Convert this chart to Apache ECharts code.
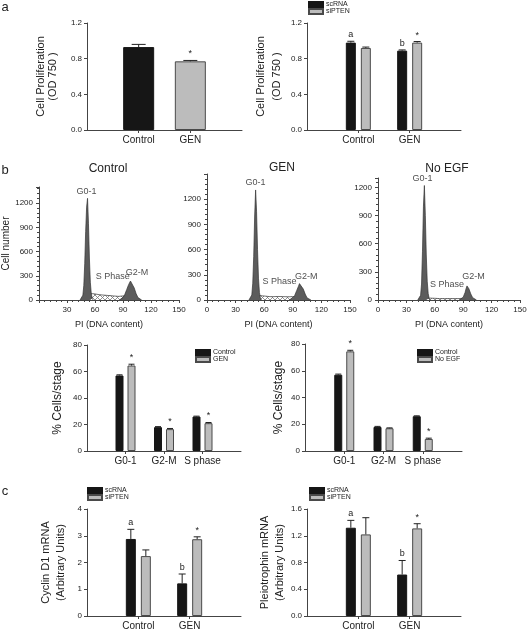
<!DOCTYPE html>
<html><head><meta charset="utf-8">
<script src="https://cdn.jsdelivr.net/npm/echarts@6/dist/echarts.min.js"></script>
<style>html,body{margin:0;padding:0;background:#fff}#c{width:528px;height:630px}</style>
</head><body><div id="c"></div>
<script>
// ---------- DATA ----------
// Panel a
const aGroups = ['Control', 'GEN'];
const aLeftMean = [0.93, 0.77];
const aLeftErr = [0.03, 0.01];
const aLeftMarks = ['', '*'];
const aScrnaMean = [0.98, 0.89];
const aScrnaErr = [0.015, 0.008];
const aScrnaMarks = ['a', 'b'];
const aSiptenMean = [0.92, 0.98];
const aSiptenErr = [0.01, 0.012];
const aSiptenMarks = ['', '*'];

// Panel b histograms: [PI, cell number]
const ctlG01 = [[44,0],[46,10],[47,60],[48,180],[49,450],[50,850],[51,1150],[52,1260],[53,950],[54,520],[55,220],[56,80],[57,20],[58,0]];
const ctlG2M = [[86,0],[88,10],[90,30],[92,70],[94,130],[96,190],[98,235],[99,240],[100,215],[102,150],[104,80],[106,30],[108,8],[110,0]];
const ctlS   = [[48,0],[50,40],[52,70],[55,80],[60,75],[65,65],[70,60],[75,55],[80,50],[85,45],[90,50],[95,55],[100,50],[103,30],[106,0]];
const genG01 = [[44,0],[46,15],[47,60],[48,200],[49,520],[50,1000],[51,1310],[52,1050],[53,600],[54,260],[55,90],[56,25],[57,0]];
const genG2M = [[86,0],[88,10],[90,25],[92,55],[94,110],[96,165],[97,195],[98,200],[99,185],[101,130],[103,70],[105,25],[107,5],[109,0]];
const genS   = [[48,0],[51,35],[54,55],[58,50],[62,45],[66,40],[70,40],[75,42],[80,40],[85,38],[90,40],[95,45],[100,40],[104,20],[107,0]];
const negG01 = [[42,0],[44,10],[45,50],[46,170],[47,520],[48,1000],[49,1220],[50,900],[51,480],[52,200],[53,70],[54,20],[55,0]];
const negG2M = [[86,0],[88,8],[90,30],[92,80],[93,120],[94,150],[95,145],[96,120],[98,65],[100,25],[102,5],[104,0]];
const negS   = [[47,0],[50,15],[55,20],[60,18],[65,15],[70,15],[75,15],[80,15],[85,15],[90,18],[95,15],[98,0]];
const histTitles = ['Control', 'GEN', 'No EGF'];

// Panel b bars
const bPhases = ['G0-1', 'G2-M', 'S phase'];
const bCtlMean = [57, 18, 26];
const bCtlErr = [0.5, 0.4, 0.3];
const bGenMean = [64.5, 16.5, 21];
const bGenErr = [1.0, 0.5, 0.5];
const bGenMarks = ['*', '*', '*'];
const bNoEgfMean = [74.5, 17, 9];
const bNoEgfErr = [0.8, 0.3, 0.6];
const bNoEgfMarks = ['*', '', '*'];

// Panel c
const cCycScrna = [2.88, 1.22];
const cCycScrnaErr = [0.36, 0.35];
const cCycSipten = [2.24, 2.87];
const cCycSiptenErr = [0.23, 0.09];
const cPtnScrna = [1.32, 0.62];
const cPtnScrnaErr = [0.11, 0.21];
const cPtnSipten = [1.22, 1.31];
const cPtnSiptenErr = [0.25, 0.07];
const cScrnaMarks = ['a', 'b'];
const cSiptenMarks = ['', '*'];

// ---------- STYLE / HELPERS ----------
const FONT = '"Liberation Sans", Arial, Helvetica, sans-serif';
const TXT = '#222';
const AX = '#444';
const BLACK = '#161616';
const GRAY = '#bcbcbc';
const GRAYB = '#4a4a4a';
const DARK = '#5c5c5c';

const pc = document.createElement('canvas');
pc.width = 5; pc.height = 5;
const g = pc.getContext('2d');
g.fillStyle = '#fff'; g.fillRect(0, 0, 5, 5);
g.strokeStyle = '#777'; g.lineWidth = 0.8;
g.beginPath(); g.moveTo(0, 5); g.lineTo(5, 0); g.moveTo(0, 0); g.lineTo(5, 5); g.stroke();
const HATCH = { image: pc, repeat: 'repeat' };

function catAxis(gi, groups, fs) {
  return {
    type: 'category', gridIndex: gi, data: ['', ...groups, ''], boundaryGap: false,
    axisLine: { lineStyle: { color: AX, width: 1 } },
    axisTick: { show: true, length: 3, interval: (i, v) => v !== '', lineStyle: { color: AX } },
    axisLabel: { interval: 0, color: TXT, fontSize: fs, fontFamily: FONT, margin: 5 },
    splitLine: { show: false }
  };
}
function valAxis(gi, max, interval, dec, name, nameGap, fs, lh) {
  return {
    type: 'value', gridIndex: gi, min: 0, max, interval,
    axisLine: { show: true, lineStyle: { color: AX, width: 1 } },
    axisTick: { show: true, length: 3, lineStyle: { color: AX } },
    axisLabel: { color: TXT, fontSize: 8, fontFamily: FONT, margin: 5, formatter: v => v.toFixed(dec) },
    splitLine: { show: false },
    name, nameLocation: 'middle', nameRotate: 90, nameGap,
    nameTextStyle: { fontSize: fs, lineHeight: lh, color: TXT, fontFamily: FONT }
  };
}
function barSeries(gi, name, vals, color, border, width, gap) {
  return {
    type: 'bar', name, xAxisIndex: gi, yAxisIndex: gi, silent: true,
    data: vals.map((v, i) => [i + 1, v]), barWidth: width, barGap: gap,
    itemStyle: { color, borderColor: border, borderWidth: 1 }
  };
}
function errSeries(gi, means, errs, marks, offset, cap) {
  return {
    type: 'custom', xAxisIndex: gi, yAxisIndex: gi, z: 5, silent: true,
    data: means.map((m, i) => [i + 1, m, errs[i]]),
    renderItem: (params, api) => {
      const i = params.dataIndex;
      const p0 = api.coord([api.value(0), api.value(1)]);
      const p1 = api.coord([api.value(0), api.value(1) + api.value(2)]);
      const cx = p0[0] + offset;
      const ch = [
        { type: 'line', shape: { x1: cx, y1: p0[1], x2: cx, y2: p1[1] }, style: { stroke: '#222', lineWidth: 1 } },
        { type: 'line', shape: { x1: cx - cap / 2, y1: p1[1], x2: cx + cap / 2, y2: p1[1] }, style: { stroke: '#222', lineWidth: 1 } }
      ];
      if (marks[i]) ch.push({ type: 'text', style: { text: marks[i], x: cx, y: p1[1] - 2, align: 'center', verticalAlign: 'bottom', fontSize: 9, fontFamily: FONT, fill: TXT } });
      return { type: 'group', children: ch };
    }
  };
}
function histX(gi, hideZero) {
  return {
    type: 'value', gridIndex: gi, min: 0, max: 150, interval: 30,
    axisLine: { lineStyle: { color: AX } },
    axisTick: { length: 3, lineStyle: { color: AX } },
    minorTick: { show: true, splitNumber: 5, length: 2, lineStyle: { color: AX } },
    axisLabel: { color: TXT, fontSize: 8, fontFamily: FONT, margin: 6, formatter: v => (hideZero && v === 0) ? '' : String(v) },
    splitLine: { show: false }, minorSplitLine: { show: false },
    name: 'PI (DNA content)', nameLocation: 'middle', nameGap: 20,
    nameTextStyle: { fontSize: 9, color: TXT, fontFamily: FONT }
  };
}
function histY(gi, max, name) {
  return {
    type: 'value', gridIndex: gi, min: 0, max, interval: 300,
    axisLine: { show: true, lineStyle: { color: AX } },
    axisTick: { show: true, length: 3, lineStyle: { color: AX } },
    minorTick: { show: true, splitNumber: 5, length: 2, lineStyle: { color: AX } },
    axisLabel: { color: TXT, fontSize: 8, fontFamily: FONT, margin: 6, showMaxLabel: false, formatter: v => String(v) },
    splitLine: { show: false }, minorSplitLine: { show: false },
    name, nameLocation: 'middle', nameRotate: 90, nameGap: 25,
    nameTextStyle: { fontSize: 10, color: TXT, fontFamily: FONT }
  };
}
function area(gi, data, fill, z) {
  return {
    type: 'line', xAxisIndex: gi, yAxisIndex: gi, data, symbol: 'none', showSymbol: false, silent: true,
    lineStyle: { color: '#333', width: 0.7 }, areaStyle: { color: fill, opacity: 1 }, z
  };
}
function peakLabels(gi, items) {
  return {
    type: 'scatter', xAxisIndex: gi, yAxisIndex: gi, symbolSize: 0, silent: true, z: 6,
    data: items.map(it => ({ name: it[2], value: [it[0], it[1]] })),
    label: { show: true, position: [0, 0], align: 'center', verticalAlign: 'middle', formatter: '{b}', fontSize: 9, color: TXT, fontFamily: FONT }
  };
}
function legend(left, top, names) {
  return {
    left, top, orient: 'vertical', itemWidth: 14, itemHeight: 5, itemGap: 0, icon: 'rect',
    selectedMode: false, padding: 0, data: names,
    textStyle: { fontSize: 7, lineHeight: 7, color: TXT, fontFamily: FONT, padding: [0, 0, 0, -2] }
  };
}

// ---------- GRIDS ----------
const grids = [
  { left: 87, top: 23, width: 155, height: 107 },   // 0 a-left
  { left: 307, top: 23, width: 154, height: 107 },  // 1 a-right
  { left: 39, top: 187, width: 140, height: 113 },  // 2 hist control
  { left: 207, top: 174, width: 143, height: 126 }, // 3 hist GEN
  { left: 378, top: 178, width: 142, height: 122 }, // 4 hist No EGF
  { left: 87, top: 345, width: 154, height: 106 },  // 5 b bars left
  { left: 305, top: 344, width: 157, height: 107 }, // 6 b bars right
  { left: 87, top: 509, width: 154, height: 107 },  // 7 c left
  { left: 307, top: 509, width: 154, height: 107 }  // 8 c right
].map(o => Object.assign({ outerBoundsMode: 'none', containLabel: false }, o));

const xAxes = [
  catAxis(0, aGroups, 10), catAxis(1, aGroups, 10),
  histX(2, true), histX(3, false), histX(4, false),
  catAxis(5, bPhases, 10), catAxis(6, bPhases, 10),
  catAxis(7, aGroups, 10), catAxis(8, aGroups, 10)
];
const yAxes = [
  valAxis(0, 1.2, 0.4, 1, 'Cell Proliferation\n(OD 750 )', 28, 11, 12),
  valAxis(1, 1.2, 0.4, 1, 'Cell Proliferation\n(OD 750 )', 22, 11, 16),
  histY(2, 1400, 'Cell number'), histY(3, 1500, ''), histY(4, 1300, ''),
  valAxis(5, 80, 20, 0, '% Cells/stage', 22, 12, 14),
  valAxis(6, 80, 20, 0, '% Cells/stage', 19, 12, 14),
  valAxis(7, 4, 1, 0, 'Cyclin D1 mRNA\n(Arbitrary Units)', 19, 11, 15),
  valAxis(8, 1.6, 0.4, 1, 'Pleiotrophin mRNA\n(Arbitrary Units)', 19, 11, 15)
];

const series = [
  // a-left
  {
    type: 'bar', name: 'aLeft', xAxisIndex: 0, yAxisIndex: 0, silent: true, barWidth: 31,
    data: aLeftMean.map((v, i) => ({ value: [i + 1, v], itemStyle: { color: i === 0 ? BLACK : GRAY, borderColor: i === 0 ? BLACK : GRAYB, borderWidth: 1 } }))
  },
  errSeries(0, aLeftMean, aLeftErr, aLeftMarks, 0, 14),
  // a-right
  barSeries(1, 'scRNA', aScrnaMean, BLACK, BLACK, 10, '50%'),
  barSeries(1, 'siPTEN', aSiptenMean, GRAY, GRAYB, 10, '50%'),
  errSeries(1, aScrnaMean, aScrnaErr, aScrnaMarks, -7.5, 7),
  errSeries(1, aSiptenMean, aSiptenErr, aSiptenMarks, 7.5, 7),
  // histograms
  area(2, ctlS, HATCH, 2), area(2, ctlG01, DARK, 3), area(2, ctlG2M, DARK, 3),
  peakLabels(2, [[51, 1350, 'G0-1'], [79, 285, 'S Phase'], [105, 335, 'G2-M']]),
  area(3, genS, HATCH, 2), area(3, genG01, DARK, 3), area(3, genG2M, DARK, 3),
  peakLabels(3, [[51, 1400, 'G0-1'], [76, 225, 'S Phase'], [104, 275, 'G2-M']]),
  area(4, negS, HATCH, 2), area(4, negG01, DARK, 3), area(4, negG2M, DARK, 3),
  peakLabels(4, [[47, 1290, 'G0-1'], [73, 160, 'S Phase'], [101, 255, 'G2-M']]),
  // b bars left
  barSeries(5, 'Control', bCtlMean, BLACK, BLACK, 8, '50%'),
  barSeries(5, 'GEN', bGenMean, GRAY, GRAYB, 8, '50%'),
  errSeries(5, bCtlMean, bCtlErr, ['', '', ''], -6, 6),
  errSeries(5, bGenMean, bGenErr, bGenMarks, 6, 6),
  // b bars right
  barSeries(6, 'Control', bCtlMean, BLACK, BLACK, 8, '50%'),
  barSeries(6, 'No EGF', bNoEgfMean, GRAY, GRAYB, 8, '50%'),
  errSeries(6, bCtlMean, bCtlErr, ['', '', ''], -6, 6),
  errSeries(6, bNoEgfMean, bNoEgfErr, bNoEgfMarks, 6, 6),
  // c left
  barSeries(7, 'scRNA', cCycScrna, BLACK, BLACK, 10, '50%'),
  barSeries(7, 'siPTEN', cCycSipten, GRAY, GRAYB, 10, '50%'),
  errSeries(7, cCycScrna, cCycScrnaErr, cScrnaMarks, -7.5, 7),
  errSeries(7, cCycSipten, cCycSiptenErr, cSiptenMarks, 7.5, 7),
  // c right
  barSeries(8, 'scRNA', cPtnScrna, BLACK, BLACK, 10, '50%'),
  barSeries(8, 'siPTEN', cPtnSipten, GRAY, GRAYB, 10, '50%'),
  errSeries(8, cPtnScrna, cPtnScrnaErr, cScrnaMarks, -7.5, 7),
  errSeries(8, cPtnSipten, cPtnSiptenErr, cSiptenMarks, 7.5, 7)
];

const txt = (text, x, y, fs) => ({ type: 'text', x, y, silent: true, style: { text, x: 0, y: 0, align: 'center', verticalAlign: 'middle', fontSize: fs, fontFamily: FONT, fill: TXT } });

const option = {
  animation: false,
  backgroundColor: '#fff',
  grid: grids,
  xAxis: xAxes,
  yAxis: yAxes,
  legend: [
    legend(308, 1, ['scRNA', 'siPTEN']),
    legend(195, 349, ['Control', 'GEN']),
    legend(417, 349, ['Control', 'No EGF']),
    legend(87, 487, ['scRNA', 'siPTEN']),
    legend(309, 487, ['scRNA', 'siPTEN'])
  ],
  graphic: [
    txt('a', 5, 7, 13), txt('b', 5, 170, 13), txt('c', 5, 491, 13),
    txt(histTitles[0], 108, 169, 12), txt(histTitles[1], 282, 168, 12), txt(histTitles[2], 447, 169, 12)
  ],
  series
};
const chart = echarts.init(document.getElementById('c'));
chart.setOption(option);
</script></body></html>
